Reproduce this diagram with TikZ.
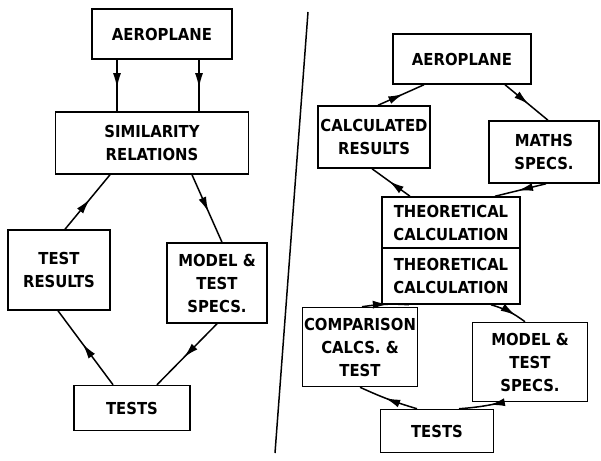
\documentclass[tikz,border=0pt]{standalone}
\usepackage{fontspec}
\setmainfont{DejaVu Sans Condensed}
\usetikzlibrary{arrows.meta,decorations.markings}
\begin{document}
\begin{tikzpicture}[x=1pt,y=-1pt,
  box/.style={draw,line width=1.5pt,align=center,inner sep=0pt,
    font=\bfseries\fontsize{16.5}{23}\selectfont},
  flow/.style={line width=1.5pt,postaction={decorate},
    decoration={markings,mark=at position #1 with
      {\arrow[line width=1.5pt]{Latex[length=15pt,width=8pt]}}}},
  flow/.default=0.55]
\useasboundingbox (0,0) rectangle (601,460);

% ---- left scheme: model testing ----
\node[box,minimum width=140pt,minimum height=50pt] (aL)  at (162,34)  {AEROPLANE};
\node[box,minimum width=193pt,minimum height=62pt] (sim) at (152,143) {SIMILARITY\\RELATIONS};
\node[box,minimum width=102pt,minimum height=80pt] (tr)  at (59,270)  {TEST\\RESULTS};
\node[box,minimum width=100pt,minimum height=80pt] (ms)  at (217,283) {MODEL \&\\TEST\\SPECS.};
\node[box,minimum width=116pt,minimum height=45pt] (tL)  at (132,408) {TESTS};

\draw[flow] ([xshift=-45pt]aL.south) -- ([xshift=-35pt]sim.north);
\draw[flow] ([xshift=37pt]aL.south)  -- ([xshift=47pt]sim.north);
\draw[flow] ([xshift=6pt]tr.north)   -- ([xshift=-42pt]sim.south);
\draw[flow] ([xshift=40pt]sim.south) -- ([xshift=5pt]ms.north);
\draw[flow] ([xshift=0pt]ms.south)   -- ([xshift=25pt]tL.north);
\draw[flow] ([xshift=-19pt]tL.north) -- ([xshift=-1pt]tr.south);

% ---- separating rule ----
\coordinate (d1) at (308,12);
\coordinate (d2) at (275,453);
\draw[line width=1.5pt] (d1) -- (d2);

% ---- right scheme: calculation and testing ----
\node[box,minimum width=138pt,minimum height=50pt] (aR)  at (462,59)  {AEROPLANE};
\node[box,minimum width=112pt,minimum height=62pt] (cr)  at (374,137) {CALCULATED\\RESULTS};
\node[box,minimum width=110pt,minimum height=62pt] (mth) at (544,152) {MATHS\\SPECS.};
\node[box,minimum width=138pt,minimum height=51pt] (th1) at (451,222.5) {THEORETICAL\\CALCULATION};
\node[box,minimum width=138pt,minimum height=56pt] (th2) at (451,276) {THEORETICAL\\CALCULATION};
\node[box,minimum width=115pt,minimum height=79pt] (cmp) at (360,347) {COMPARISON\\CALCS. \&\\TEST};
\node[box,minimum width=115pt,minimum height=79pt] (ms2) at (530,362) {MODEL \&\\TEST\\SPECS.};
\node[box,minimum width=113pt,minimum height=43pt] (tR)  at (437,431) {TESTS};

\draw[flow] ([xshift=4pt]cr.north)    -- ([xshift=-38pt]aR.south);
\draw[flow] ([xshift=43pt]aR.south)   -- ([xshift=4pt]mth.north);
\draw[flow] ([xshift=2pt]mth.south)   -- ([xshift=44pt]th1.north);
\draw[flow] ([xshift=-41pt]th1.north) -- ([xshift=-2pt]cr.south);
\draw[flow] ([xshift=2pt]cmp.north)   to[bend left=6] ([xshift=-42pt]th2.south);
\draw[flow=0.7] ([xshift=40pt]th2.south) to[bend left=10] ([xshift=-5pt]ms2.north);
\draw[flow=0.3] ([xshift=-27pt]ms2.south) to[bend left=4] ([xshift=22pt]tR.north);
\draw[flow] ([xshift=-20pt]tR.north)  to[bend left=4] ([xshift=0pt]cmp.south);
\end{tikzpicture}
\end{document}
